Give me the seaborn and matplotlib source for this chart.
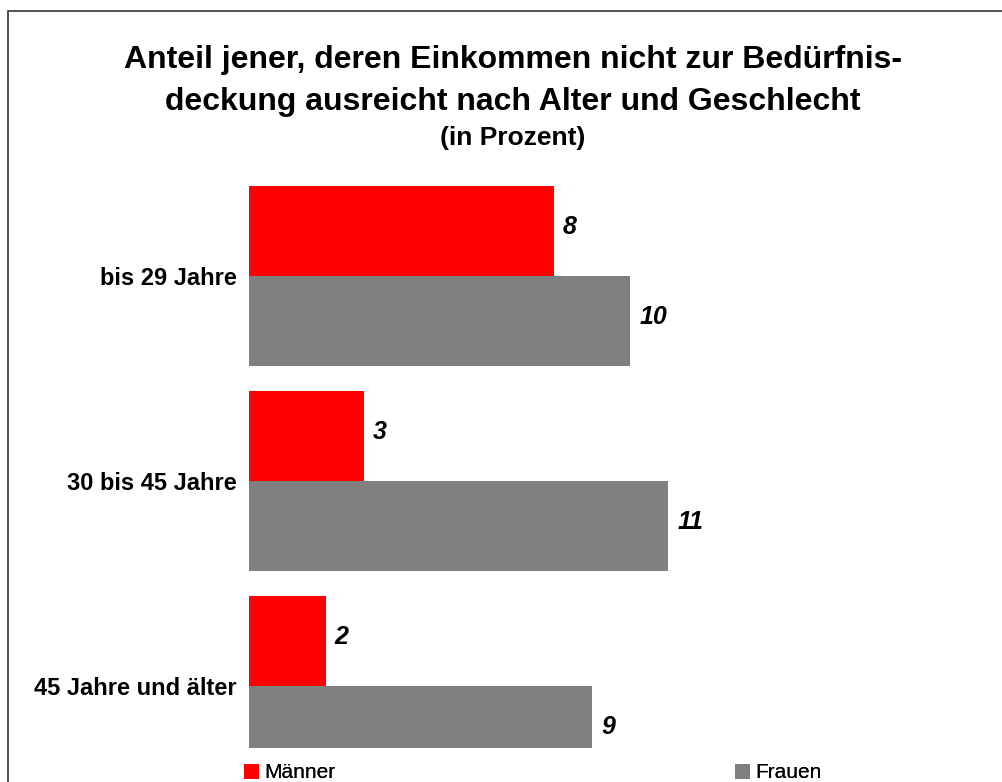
import matplotlib
matplotlib.use("Agg")
import matplotlib.pyplot as plt
import seaborn as sns
import pandas as pd
from matplotlib.patches import Rectangle, Patch

categories = ["bis 29 Jahre", "30 bis 45 Jahre", "45 Jahre und älter"]
series_names = ["Männer", "Frauen"]
maenner = [8, 3, 2]
frauen = [10, 11, 9]
colors = ["#FF0000", "#808080"]

df = pd.DataFrame({
    "Alter": categories * 2,
    "Geschlecht": [series_names[0]] * 3 + [series_names[1]] * 3,
    "Wert": maenner + frauen,
})

sns.set_theme(style="white")
plt.rcParams["font.family"] = ["Liberation Sans", "DejaVu Sans"]
plt.rcParams["text.color"] = "black"
plt.rcParams["ytick.color"] = "black"

fig = plt.figure(figsize=(10.03, 7.82), dpi=100)
W, H = 1003, 782
ax = fig.add_axes([249.5 / W, 1 - 748 / H, (973 - 249.5) / W, (748 - 173.5) / H])

sns.barplot(data=df, y="Alter", x="Wert", hue="Geschlecht", order=categories,
            hue_order=series_names, palette=colors, orient="h", width=0.878,
            saturation=1, legend=False, ax=ax, errorbar=None, linewidth=0)

ax.set_xlim(0, 19)
ax.set_ylim(2.302, -0.5)
for c in ax.containers:
    anns = ax.bar_label(c, fmt="%d", padding=6.5, fontsize=18, fontweight="bold",
                        fontstyle="italic", color="black")
    for a in anns:
        a.xyann = (6.5, 3)

for s in ax.spines.values():
    s.set_visible(False)
ax.set_xticks([])
ax.set_xlabel("")
ax.set_ylabel("")
ax.tick_params(axis="y", length=0, pad=9)
for t in ax.get_yticklabels():
    t.set_fontweight("bold")
    t.set_fontsize(17)
    t.set_color("black")

fig.text(513 / W, 1 - 68 / H, "Anteil jener, deren Einkommen nicht zur Bedürfnis-",
         ha="center", va="baseline", fontsize=23, fontweight="bold")
fig.text(513 / W, 1 - 110 / H, "deckung ausreicht nach Alter und Geschlecht",
         ha="center", va="baseline", fontsize=23, fontweight="bold")
fig.text(513 / W, 1 - 145 / H, "(in Prozent)",
         ha="center", va="baseline", fontsize=19, fontweight="bold")

for name, col, x0 in [(series_names[0], colors[0], 244), (series_names[1], colors[1], 735)]:
    leg = fig.legend([Patch(facecolor=col, edgecolor="none")], [name],
                     loc="center left", bbox_to_anchor=(x0 / W, 1 - 773 / H),
                     frameon=False, fontsize=15, handlelength=0.72,
                     handleheight=0.72, handletextpad=0.24, borderpad=0,
                     borderaxespad=0)
    fig.add_artist(leg)

fig.patches.append(Rectangle((8.5 / W, -0.1), 1.2, 1.1 - 11.5 / H,
                             transform=fig.transFigure, fill=False,
                             edgecolor="#333333", linewidth=1.2))

fig.savefig("out.png", dpi=100, facecolor="white")
